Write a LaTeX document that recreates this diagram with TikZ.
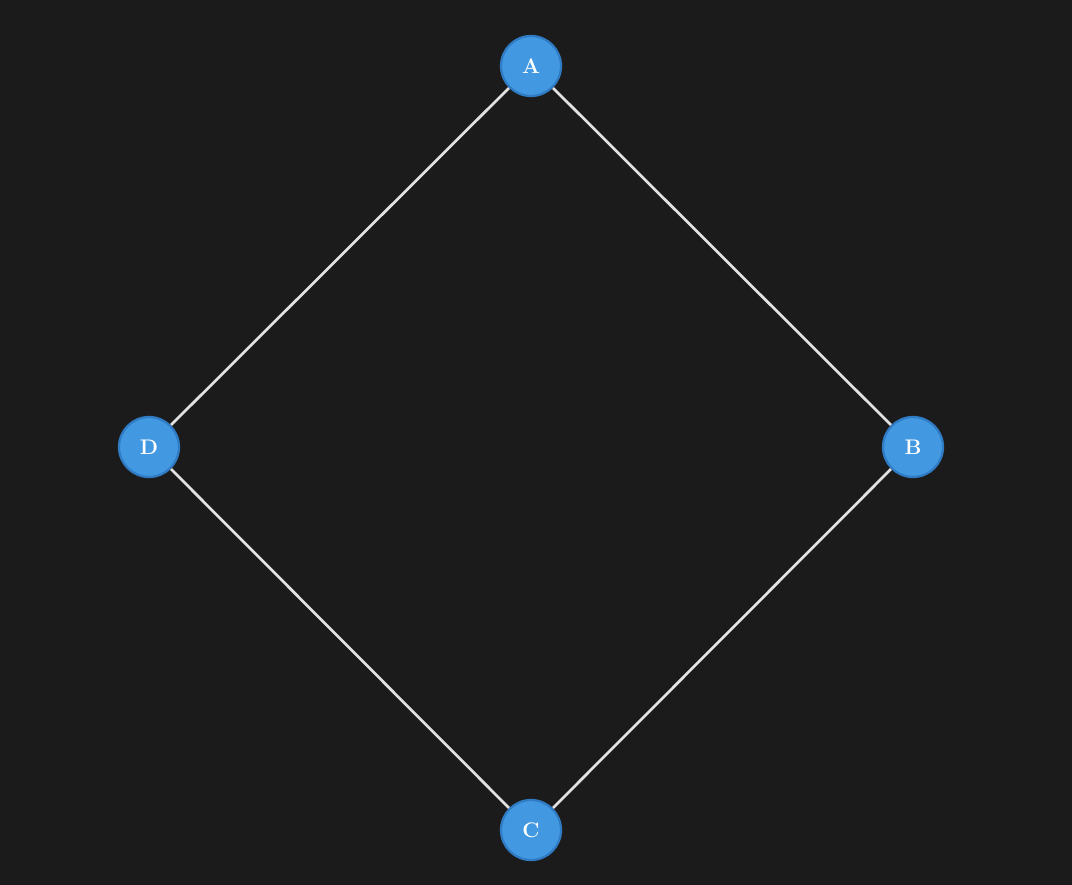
\documentclass[tikz,border=0pt]{standalone}
\usepackage{tikz}
\usetikzlibrary{positioning}
\definecolor{bgdark}{HTML}{1B1B1B}
\definecolor{nodeblue}{HTML}{4299E1}
\definecolor{rimblue}{HTML}{2F7BC4}
\definecolor{edgegray}{HTML}{E2E2E2}
\tikzset{
vertex/.style={circle,fill=nodeblue,draw=rimblue,line width=1.6pt,minimum size=1.5cm,inner sep=0pt,text=white,font=\fontsize{15}{17}\selectfont\bfseries},
link/.style={draw=edgegray,line width=1.9pt}
}

\begin{document}
\begin{tikzpicture}[x=0.025cm,y=-0.025cm]
\fill[bgdark] (0,0) rectangle (1072,885);
\useasboundingbox (0,0) rectangle (1072,885);
\node[vertex] (A) at (531,66) {A};
\node[vertex] (B) at (913,447) {B};
\node[vertex] (C) at (531,830) {C};
\node[vertex] (D) at (149,447) {D};
\draw[link] (A) -- (B);
\draw[link] (B) -- (C);
\draw[link] (C) -- (D);
\draw[link] (D) -- (A);
\end{tikzpicture}
\end{document}
